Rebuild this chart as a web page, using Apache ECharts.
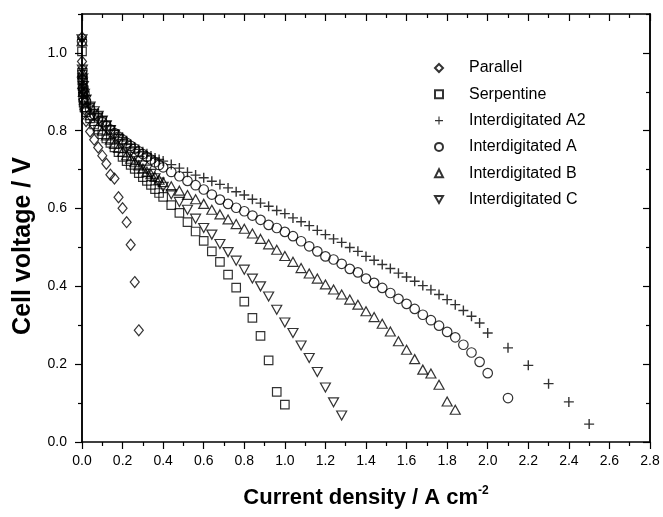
<!DOCTYPE html>
<html><head><meta charset="utf-8">
<script src="https://cdn.jsdelivr.net/npm/echarts@6/dist/echarts.min.js"></script>
<style>html,body{margin:0;padding:0;background:#fff}#c{width:663px;height:517px}</style>
</head><body><div id="c"></div>
<script>
// ---- data ----
const seriesNames = ['Parallel', 'Serpentine', 'Interdigitated A2', 'Interdigitated A', 'Interdigitated B', 'Interdigitated C'];

const parallelX = [0, 0, 0.002, 0.004, 0.007, 0.012, 0.02, 0.04, 0.06, 0.08, 0.10, 0.12, 0.14, 0.16, 0.18, 0.20, 0.22, 0.24, 0.26, 0.28];
const parallelY = [1.04, 0.978, 0.935, 0.905, 0.88, 0.855, 0.825, 0.798, 0.777, 0.757, 0.736, 0.715, 0.687, 0.677, 0.629, 0.601, 0.565, 0.507, 0.411, 0.287];

const serpX = [0, 0.001, 0.002, 0.003, 0.004, 0.006, 0.008, 0.012, 0.02,
  0.04, 0.06, 0.08, 0.10, 0.12, 0.14, 0.16, 0.18, 0.20, 0.22, 0.24, 0.26, 0.28, 0.30, 0.32, 0.34, 0.36, 0.38, 0.40,
  0.44, 0.48, 0.52, 0.56, 0.60, 0.64, 0.68, 0.72, 0.76, 0.80, 0.84, 0.88, 0.92, 0.96, 1.00];
const serpY = [1.004, 0.944, 0.93, 0.915, 0.9, 0.885, 0.872, 0.86, 0.848,
  0.832, 0.816, 0.803, 0.791, 0.780, 0.769, 0.757, 0.745, 0.733, 0.722, 0.712, 0.702, 0.691, 0.681, 0.671, 0.661, 0.650, 0.640, 0.630,
  0.609, 0.589, 0.565, 0.541, 0.517, 0.490, 0.463, 0.430, 0.397, 0.361, 0.319, 0.273, 0.210, 0.129, 0.096];

const a2X = [0, 0.002, 0.004, 0.007, 0.012, 0.02,
  0.04, 0.06, 0.08, 0.10, 0.12, 0.14, 0.16, 0.18, 0.20, 0.22, 0.24, 0.26, 0.28, 0.30, 0.32, 0.34, 0.36, 0.38, 0.40,
  0.44, 0.48, 0.52, 0.56, 0.60, 0.64, 0.68, 0.72, 0.76, 0.80, 0.84, 0.88, 0.92, 0.96, 1.00,
  1.04, 1.08, 1.12, 1.16, 1.20, 1.24, 1.28, 1.32, 1.36, 1.40, 1.44, 1.48, 1.52, 1.56, 1.60,
  1.64, 1.68, 1.72, 1.76, 1.80, 1.84, 1.88, 1.92, 1.96, 2.00, 2.1, 2.2, 2.3, 2.4, 2.5];
const a2Y = [1.035, 0.96, 0.935, 0.915, 0.90, 0.89,
  0.87, 0.855, 0.845, 0.836, 0.824, 0.812, 0.801, 0.791, 0.783, 0.774, 0.765, 0.758, 0.752, 0.746, 0.741, 0.735, 0.730, 0.726, 0.722,
  0.713, 0.704, 0.693, 0.686, 0.679, 0.670, 0.662, 0.653, 0.643, 0.635, 0.624, 0.614, 0.606, 0.595, 0.587,
  0.576, 0.566, 0.556, 0.544, 0.533, 0.522, 0.513, 0.500, 0.490, 0.477, 0.467, 0.456, 0.446, 0.434, 0.424,
  0.413, 0.402, 0.391, 0.379, 0.366, 0.353, 0.338, 0.323, 0.306, 0.280, 0.242, 0.197, 0.150, 0.103, 0.046];

const aX = [0, 0.002, 0.004, 0.007, 0.012, 0.02,
  0.04, 0.06, 0.08, 0.10, 0.12, 0.14, 0.16, 0.18, 0.20, 0.22, 0.24, 0.26, 0.28, 0.30, 0.32, 0.34, 0.36, 0.38, 0.40,
  0.44, 0.48, 0.52, 0.56, 0.60, 0.64, 0.68, 0.72, 0.76, 0.80, 0.84, 0.88, 0.92, 0.96, 1.00,
  1.04, 1.08, 1.12, 1.16, 1.20, 1.24, 1.28, 1.32, 1.36, 1.40, 1.44, 1.48, 1.52, 1.56, 1.60,
  1.64, 1.68, 1.72, 1.76, 1.80, 1.84, 1.88, 1.92, 1.96, 2.00, 2.1];
const aY = [1.03, 0.955, 0.93, 0.91, 0.895, 0.875,
  0.855, 0.842, 0.832, 0.822, 0.812, 0.803, 0.794, 0.785, 0.777, 0.769, 0.761, 0.754, 0.747, 0.740, 0.733, 0.726, 0.719, 0.712, 0.706,
  0.694, 0.683, 0.671, 0.660, 0.649, 0.636, 0.623, 0.612, 0.602, 0.593, 0.582, 0.571, 0.558, 0.550, 0.540,
  0.529, 0.516, 0.503, 0.490, 0.477, 0.469, 0.458, 0.445, 0.436, 0.420, 0.409, 0.396, 0.383, 0.368, 0.355,
  0.342, 0.327, 0.313, 0.299, 0.283, 0.269, 0.250, 0.230, 0.206, 0.177, 0.113];

const bX = [0, 0.002, 0.004, 0.007, 0.012, 0.02,
  0.04, 0.06, 0.08, 0.10, 0.12, 0.14, 0.16, 0.18, 0.20, 0.22, 0.24, 0.26, 0.28, 0.30, 0.32, 0.34, 0.36, 0.38, 0.40,
  0.44, 0.48, 0.52, 0.56, 0.60, 0.64, 0.68, 0.72, 0.76, 0.80, 0.84, 0.88, 0.92, 0.96, 1.00,
  1.04, 1.08, 1.12, 1.16, 1.20, 1.24, 1.28, 1.32, 1.36, 1.40, 1.44, 1.48, 1.52, 1.56, 1.60,
  1.64, 1.68, 1.72, 1.76, 1.80, 1.84];
const bY = [1.03, 0.95, 0.92, 0.90, 0.88, 0.86,
  0.84, 0.825, 0.812, 0.800, 0.788, 0.777, 0.766, 0.756, 0.746, 0.737, 0.728, 0.719, 0.711, 0.703, 0.695, 0.688, 0.681, 0.674, 0.668,
  0.657, 0.646, 0.635, 0.624, 0.612, 0.597, 0.585, 0.572, 0.560, 0.548, 0.536, 0.522, 0.508, 0.494, 0.478,
  0.463, 0.447, 0.433, 0.420, 0.405, 0.392, 0.379, 0.366, 0.353, 0.336, 0.321, 0.304, 0.284, 0.259, 0.237,
  0.213, 0.186, 0.176, 0.147, 0.104, 0.083];

const cX = [0, 0.002, 0.004, 0.007, 0.012, 0.02,
  0.04, 0.06, 0.08, 0.10, 0.12, 0.14, 0.16, 0.18, 0.20, 0.22, 0.24, 0.26, 0.28, 0.30, 0.32, 0.34, 0.36, 0.38, 0.40,
  0.44, 0.48, 0.52, 0.56, 0.60, 0.64, 0.68, 0.72, 0.76, 0.80, 0.84, 0.88, 0.92, 0.96, 1.00,
  1.04, 1.08, 1.12, 1.16, 1.20, 1.24, 1.28];
const cY = [1.035, 0.957, 0.935, 0.915, 0.895, 0.88,
  0.862, 0.850, 0.838, 0.826, 0.814, 0.802, 0.790, 0.778, 0.766, 0.755, 0.744, 0.733, 0.722, 0.711, 0.700, 0.689, 0.678, 0.667, 0.656,
  0.637, 0.617, 0.597, 0.574, 0.550, 0.533, 0.509, 0.488, 0.466, 0.443, 0.420, 0.400, 0.374, 0.340, 0.307,
  0.280, 0.248, 0.216, 0.180, 0.140, 0.102, 0.068];

const yMajorTicks = [0, 0.2, 0.4, 0.6, 0.8, 1.0];
const yMinorTicks = [0.1, 0.3, 0.5, 0.7, 0.9, 1.1];
const xMin = 0, xMax = 2.8, xStep = 0.2;
const yMin = 0, yMax = 1.1;

// ---- chart ----
const FONT = 'Liberation Sans, Arial, sans-serif';
function zip(xs, ys) { return xs.map((x, i) => [x, ys[i]]); }
const PLUS = 'path://M4.3,0H5.7V4.3H10V5.7H5.7V10H4.3V5.7H0V4.3H4.3Z';
const DOWN_TRI = 'path://M0,0L10,0L5,8.66Z';
const hollow = { color: 'rgba(0,0,0,0)', borderColor: '#000', borderWidth: 1.2 };

function sc(name, xs, ys, symbol, size, style) {
  return { type: 'scatter', name, data: zip(xs, ys), symbol, symbolSize: size,
    itemStyle: style, emphasis: { disabled: true }, z: 3 };
}

const lineStyle = { color: '#000', width: 1.5 };
function yAx(pos, ticks, len, inside, labels) {
  return {
    type: 'value', position: pos, min: yMin, max: yMax, interval: 0.1,
    axisLine: { show: true, onZero: false, lineStyle },
    axisTick: { show: true, customValues: ticks, length: len, inside, lineStyle: { color: '#000', width: 1.2 } },
    axisLabel: labels ? { show: true, customValues: yMajorTicks, margin: 15, fontSize: 14, color: '#000', fontFamily: FONT,
      formatter: v => v.toFixed(1) } : { show: false },
    splitLine: { show: false }
  };
}

const chart = echarts.init(document.getElementById('c'), null, { renderer: 'canvas' });
chart.setOption({
  animation: false,
  backgroundColor: '#fff',
  grid: { left: 82, right: 13, top: 14, bottom: 75, containLabel: false },
  legend: {
    orient: 'vertical', left: 429, top: 55, itemGap: 10.3, itemWidth: 8, itemHeight: 8,
    data: seriesNames,
    textStyle: { fontSize: 16, color: '#000', fontFamily: FONT, padding: [0, 0, 0, 21] },
    selectedMode: false
  },
  xAxis: [
    { type: 'value', position: 'bottom', min: xMin, max: xMax, interval: xStep,
      name: '{a|Current density / A cm}{s|-2}', nameLocation: 'middle', nameGap: 43,
      nameTextStyle: { rich: {
        a: { fontSize: 22, fontWeight: 'bold', fontFamily: FONT, color: '#000', lineHeight: 26 },
        s: { fontSize: 12, fontWeight: 'bold', fontFamily: FONT, color: '#000', verticalAlign: 'top', lineHeight: 26 } } },
      axisLine: { show: true, onZero: false, lineStyle },
      axisTick: { show: true, length: 7, inside: false, lineStyle: { color: '#000', width: 1.2 } },
      minorTick: { show: true, splitNumber: 2, length: 4, lineStyle: { color: '#000', width: 1.2 } },
      axisLabel: { margin: 12, fontSize: 14, color: '#000', fontFamily: FONT, formatter: v => v.toFixed(1) },
      splitLine: { show: false }, minorSplitLine: { show: false } },
    { type: 'value', position: 'top', min: xMin, max: xMax, interval: xStep,
      axisLine: { show: true, onZero: false, lineStyle },
      axisTick: { show: true, length: 7, inside: true, lineStyle: { color: '#000', width: 1.2 } },
      minorTick: { show: true, splitNumber: 2, length: 4, lineStyle: { color: '#000', width: 1.2 } },
      axisLabel: { show: false }, splitLine: { show: false } }
  ],
  yAxis: [
    Object.assign(yAx('left', yMajorTicks, 7, false, true), {
      name: 'Cell voltage / V', nameLocation: 'middle', nameGap: 46, nameRotate: 90,
      nameTextStyle: { fontSize: 25, fontWeight: 'bold', fontFamily: FONT, color: '#000', padding: [0, 36, 0, 0] } }),
    yAx('left', yMinorTicks, 4, false, false),
    yAx('right', yMajorTicks, 7, true, false),
    yAx('right', yMinorTicks, 4, true, false)
  ],
  series: [
    sc(seriesNames[0], parallelX, parallelY, 'diamond', [9, 11], hollow),
    sc(seriesNames[1], serpX, serpY, 'rect', 8.5, hollow),
    sc(seriesNames[2], a2X, a2Y, PLUS, 10, { color: '#000', borderWidth: 0 }),
    sc(seriesNames[3], aX, aY, 'circle', 9.5, hollow),
    sc(seriesNames[4], bX, bY, 'triangle', [10, 9], hollow),
    sc(seriesNames[5], cX, cY, DOWN_TRI, [10, 9], hollow)
  ]
});
</script></body></html>
